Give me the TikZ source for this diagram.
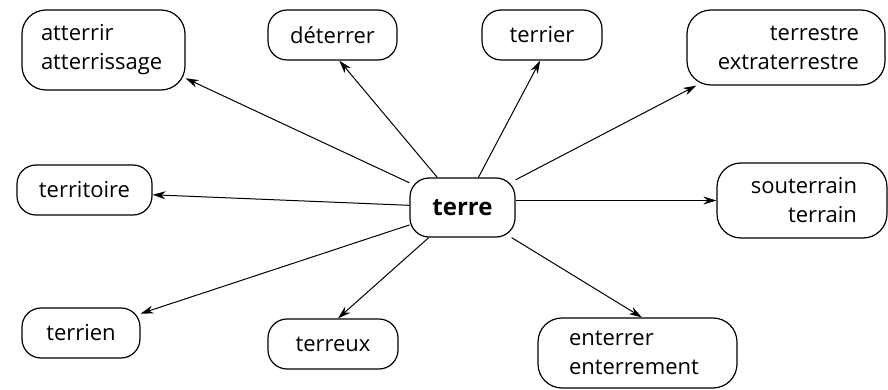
\documentclass[tikz,border=0pt]{standalone}
\usepackage{fontspec}
\setmainfont{Open Sans}
\usetikzlibrary{arrows.meta}
\begin{document}
\begin{tikzpicture}[x=1pt,y=-1pt,
  box/.style={draw, line width=1.2pt, rounded corners=19pt, inner ysep=0pt,
    font=\fontsize{22}{29}\selectfont},
  arr/.style={-{Stealth[length=13pt,width=8pt]}, line width=1pt}]
\useasboundingbox (0,0) rectangle (888,390);
\node[box, minimum width=163, minimum height=80, text width=125, inner xsep=19, align=left, rounded corners=24pt] (atterrir) at (103.5,50) {atterrir\\atterrissage};
\node[box, minimum width=129, minimum height=50, align=center] (deterrer) at (332.5,35) {déterrer};
\node[box, minimum width=120, minimum height=50, align=center] (terrier) at (542,35) {terrier};
\node[box, minimum width=198, minimum height=75, text width=146, inner xsep=26, align=right, rounded corners=24pt] (terrestre) at (786,47.5) {terrestre\\extraterrestre};
\node[box, minimum width=135, minimum height=50, align=center] (territoire) at (84.5,190) {territoire};
\node[box, minimum width=105, minimum height=59, align=center, font=\fontsize{24}{29}\selectfont\bfseries] (terre) at (462.5,207.5) {terre};
\node[box, minimum width=170, minimum height=75, text width=110, inner xsep=30, align=right, rounded corners=24pt] (souterrain) at (802,200.5) {souterrain\\terrain};
\node[box, minimum width=118, minimum height=50, align=center] (terrien) at (81,333) {terrien};
\node[box, minimum width=130, minimum height=50, align=center] (terreux) at (333,344) {terreux};
\node[box, minimum width=199, minimum height=70, text width=137, inner xsep=31, align=left, rounded corners=24pt] (enterrer) at (637.5,353) {enterrer\\enterrement};
\draw[arr] (terre) -- (atterrir.-19.5);
\draw[arr] (terre) -- (deterrer.-75);
\draw[arr] (terre) -- (terrier.-94);
\draw[arr] (terre) -- (terrestre.-157);
\draw[arr] (terre) -- (territoire.-4);
\draw[arr] (terre.east |- souterrain.west) -- (souterrain.west);
\draw[arr] (terre) -- (terrien.18.7);
\draw[arr] (terre) -- (terreux.79);
\draw[arr] (terre) -- (enterrer.83);
\end{tikzpicture}
\end{document}
